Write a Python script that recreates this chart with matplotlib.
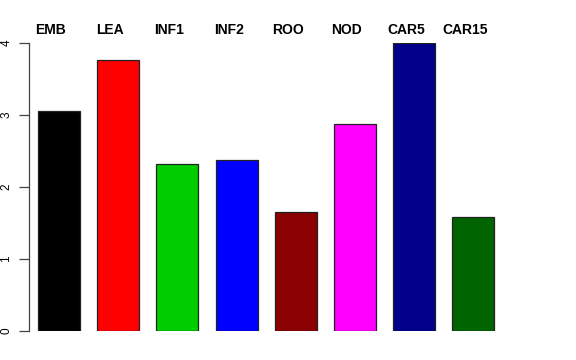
import matplotlib
matplotlib.use("Agg")
import matplotlib.pyplot as plt
import matplotlib.transforms as mtransforms

categories = ["EMB", "LEA", "INF1", "INF2", "ROO", "NOD", "CAR5", "CAR15"]
values = [3.06, 3.76, 2.32, 2.37, 1.65, 2.87, 4.0, 1.58]
colors = ["#000000", "#FF0000", "#00CD00", "#0000FF", "#8B0000", "#FF00FF", "#00008B", "#006400"]
yticks = [0, 1, 2, 3, 4]

plt.rcParams['font.family'] = ['Liberation Sans', 'DejaVu Sans']

fig = plt.figure(figsize=(5.76, 3.6), dpi=100)
pitch = 59.2
x_left = -30 / pitch
x_right = 7.5
ax = fig.add_axes([29/576, 1 - 331/360, (x_right - x_left) * pitch / 576, 288/360])

pos = list(range(len(values)))
ax.bar(pos, values, width=0.71, color=colors, edgecolor="#222222", linewidth=0.9)
ax.set_xlim(x_left, x_right)
ax.set_ylim(0, 4)

for s in ["top", "right", "bottom"]:
    ax.spines[s].set_visible(False)
ax.spines["left"].set_bounds(0, 4)
ax.spines["left"].set_color("#444444")
ax.spines["left"].set_linewidth(0.9)
ax.set_xticks([])
ax.set_yticks(yticks)
ax.set_yticklabels([str(t) for t in yticks], rotation=90, va="center", fontsize=8.5)
ax.tick_params(axis="y", length=7, width=0.9, color="#444444", pad=5)

label_trans = mtransforms.blended_transform_factory(
    mtransforms.offset_copy(ax.transData, fig=fig, x=-8, y=0, units="dots"), fig.transFigure)
for p, c in zip(pos, categories):
    ax.text(p, 1 - 29.5/360, c, transform=label_trans,
            ha="center", va="center", fontsize=10, fontweight="bold")

fig.savefig("out.png", dpi=100)
